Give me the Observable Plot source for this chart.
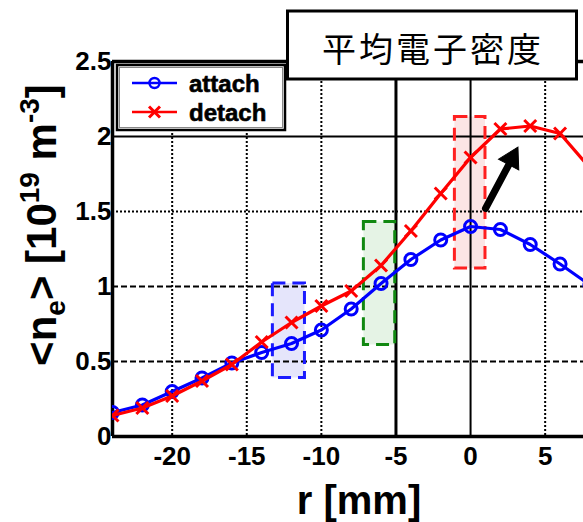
<!DOCTYPE html>
<html>
<head>
<meta charset="utf-8">
<script src="https://cdn.jsdelivr.net/npm/d3@7"></script>
<script src="https://cdn.jsdelivr.net/npm/@observablehq/plot@0.6"></script>
<style>
  html, body { margin: 0; padding: 0; background: #fff; overflow: hidden; }
</style>
</head>
<body>
<div id="chart"></div>
<script>
// Radial position r [mm] and the line-averaged electron density <n_e> [1e19 m^-3]
const radius = [-24, -22, -20, -18, -16, -14, -12, -10, -8, -6, -4, -2, 0, 2, 4, 6, 8];
const attach = [0.16, 0.21, 0.30, 0.39, 0.49, 0.56, 0.62, 0.71, 0.85, 1.02, 1.18, 1.31, 1.40, 1.38, 1.28, 1.15, 1.01];
const detach = [0.14, 0.19, 0.27, 0.37, 0.48, 0.63, 0.76, 0.87, 0.97, 1.14, 1.37, 1.62, 1.86, 2.05, 2.07, 2.02, 1.79];
const seriesNames = ["attach", "detach"];

const xTicks = [-20, -15, -10, -5, 0, 5];
const yTicks = [0, 0.5, 1, 1.5, 2, 2.5];

// Highlighted measurement windows (r range, density range)
const windowR1 = [-13.25, -7.15, -1.05];
const windowR2 = [-11.1, -5.05, 1.0];
const windowV1 = [0.39, 0.61, 1.12];
const windowV2 = [1.02, 1.43, 2.13];
const windowEdge = ["#1a1aff", "#118811", "#ff2020"];
const windowFill = ["#dcdcfa", "#dcefdc", "#fadcdc"];

// Arrow showing the rise of the detached profile
const arrowR = [1.0, 2.58];
const arrowV = [1.52, 1.815];
const arrowHead = [{ r: 2.76, v: 1.852 }];

const rows = radius.flatMap((r, i) => [
  { r, v: attach[i], series: seriesNames[0] },
  { r, v: detach[i], series: seriesNames[1] }
]);
const windows = windowR1.map((_, i) => ({
  r1: windowR1[i], r2: windowR2[i], v1: windowV1[i], v2: windowV2[i],
  edge: windowEdge[i], fill: windowFill[i]
}));
const arrowLine = arrowR.map((r, i) => ({ r, v: arrowV[i] }));

const BLUE = "#0000ff";
const RED = "#ff0000";
const FONT = "'Liberation Sans', Arial, sans-serif";

const attachRows = rows.filter(d => d.series === "attach");
const detachRows = rows.filter(d => d.series === "detach");

const chart = Plot.plot({
  width: 583,
  height: 522,
  marginLeft: 112,
  marginRight: 0,
  marginTop: 61,
  marginBottom: 86,
  style: { fontFamily: FONT, fontWeight: "bold", fontSize: "26px", background: "#fff", overflow: "hidden" },
  x: { domain: [-24, 7.57], ticks: xTicks, tickFormat: d => String(d) },
  y: { domain: [0, 2.5], ticks: yTicks, tickFormat: d => String(d) },
  color: { type: "identity" },
  marks: [
    // shaded windows
    Plot.rect(windows, { x1: "r1", x2: "r2", y1: "v1", y2: "v2", fill: "fill", fillOpacity: 0.75 }),
    // grid lines
    Plot.ruleX(xTicks.filter(t => t !== -5 && t !== 0), { stroke: "#000", strokeWidth: 2, strokeDasharray: "2,2" }),
    Plot.ruleX(xTicks.filter(t => t === -5), { stroke: "#000", strokeWidth: 3 }),
    Plot.ruleX(xTicks.filter(t => t === 0), { stroke: "#000", strokeWidth: 2 }),
    Plot.ruleY(yTicks.filter(t => t === 1.5), { stroke: "#000", strokeWidth: 2, strokeDasharray: "2,2" }),
    Plot.ruleY(yTicks.filter(t => t === 0.5 || t === 1), { stroke: "#000", strokeWidth: 2, strokeDasharray: "6,3" }),
    Plot.ruleY(yTicks.filter(t => t === 2), { stroke: "#000", strokeWidth: 2 }),
    // window outlines
    Plot.rect(windows, { x1: "r1", x2: "r2", y1: "v1", y2: "v2", stroke: "edge", strokeWidth: 3, strokeDasharray: "13,7", fill: "none" }),
    // axes frame (left, bottom, top)
    Plot.ruleY([0, 2.5], { stroke: "#000", strokeWidth: 3.5 }),
    Plot.ruleX([-24], { stroke: "#000", strokeWidth: 3.5 }),
    // series
    Plot.line(attachRows, { x: "r", y: "v", stroke: BLUE, strokeWidth: 3.2, clip: true }),
    Plot.dot(attachRows, { x: "r", y: "v", stroke: BLUE, strokeWidth: 3, r: 6, fill: "none", clip: true }),
    Plot.line(detachRows, { x: "r", y: "v", stroke: RED, strokeWidth: 3.2, clip: true }),
    Plot.dot(detachRows, { x: "r", y: "v", stroke: RED, strokeWidth: 3, r: 5.5, symbol: "times", clip: true }),
    // arrow
    Plot.line(arrowLine, { x: "r", y: "v", stroke: "#000", strokeWidth: 7 }),
    Plot.dot(arrowHead, { x: "r", y: "v", symbol: "triangle", r: 8.5, rotate: 28, fill: "#000", stroke: "#000", strokeWidth: 1 }),
    // tick labels (slightly stroked for a heavier face)
    Plot.axisX({ ticks: xTicks, tickSize: 0, tickPadding: 10, tickFormat: d => String(d), label: null,
                 stroke: "#000", strokeWidth: 0.7 }),
    Plot.axisY({ ticks: yTicks, tickSize: 0, tickPadding: 1, tickFormat: d => String(d), label: null,
                 stroke: "#000", strokeWidth: 0.7 })
  ]
});

document.getElementById("chart").appendChild(chart);

const svg = d3.select(chart);

// legend
const lg = svg.append("g").attr("font-family", FONT).attr("font-weight", "bold")
  .attr("font-size", 24).attr("text-anchor", "start");
lg.append("rect").attr("x", 117).attr("y", 65).attr("width", 168).attr("height", 65)
  .attr("fill", "#fff").attr("stroke", "#000").attr("stroke-width", 2.5);
lg.append("rect").attr("x", 119.5).attr("y", 67.5).attr("width", 163).attr("height", 60)
  .attr("fill", "none").attr("stroke", "#888").attr("stroke-width", 1);
const entries = [
  { name: seriesNames[0], color: BLUE, y: 83, symbol: "circle" },
  { name: seriesNames[1], color: RED, y: 112, symbol: "times" }
];
entries.forEach(e => {
  lg.append("line").attr("x1", 132).attr("x2", 177).attr("y1", e.y).attr("y2", e.y)
    .attr("stroke", e.color).attr("stroke-width", 2.5);
  if (e.symbol === "circle") {
    lg.append("circle").attr("cx", 154.5).attr("cy", e.y).attr("r", 5)
      .attr("fill", "none").attr("stroke", e.color).attr("stroke-width", 2.5);
  } else {
    lg.append("path").attr("transform", `translate(154.5,${e.y})`)
      .attr("d", d3.symbol(d3.symbolTimes, 80)())
      .attr("fill", "none").attr("stroke", e.color).attr("stroke-width", 3);
  }
  lg.append("text").attr("x", 189).attr("y", e.y + 9).attr("fill", "#000")
    .attr("stroke", "#000").attr("stroke-width", 0.6).text(e.name);
});

// title box
const tg = svg.append("g");
tg.append("rect").attr("x", 287.5).attr("y", 11).attr("width", 289).attr("height", 68)
  .attr("fill", "#fff").attr("stroke", "#000").attr("stroke-width", 3);
tg.append("text").attr("x", 433).attr("y", 47).attr("text-anchor", "middle")
  .attr("dominant-baseline", "central")
  .attr("font-family", "'Noto Sans CJK JP', 'Noto Sans CJK SC', sans-serif")
  .attr("font-weight", "normal").attr("font-size", 34).attr("letter-spacing", 3)
  .attr("fill", "#000").text("平均電子密度");

// axis titles
svg.append("text").attr("x", 359).attr("y", 514).attr("text-anchor", "middle")
  .attr("font-family", FONT).attr("font-weight", "bold").attr("font-size", 40)
  .attr("fill", "#000").text("r [mm]");

const yl = svg.append("text").attr("transform", "translate(56,225) rotate(-90)")
  .attr("text-anchor", "middle")
  .attr("font-family", FONT).attr("font-weight", "bold").attr("font-size", 42).attr("fill", "#000");
yl.append("tspan").text("<n");
yl.append("tspan").attr("font-size", 28).attr("dy", 9).text("e");
yl.append("tspan").attr("dy", -9).text("> [10");
yl.append("tspan").attr("font-size", 28).attr("dy", -17).text("19");
yl.append("tspan").attr("dy", 17).text(" m");
yl.append("tspan").attr("font-size", 28).attr("dy", -17).text("-3");
yl.append("tspan").attr("dy", 17).text("]");
</script>
</body>
</html>
